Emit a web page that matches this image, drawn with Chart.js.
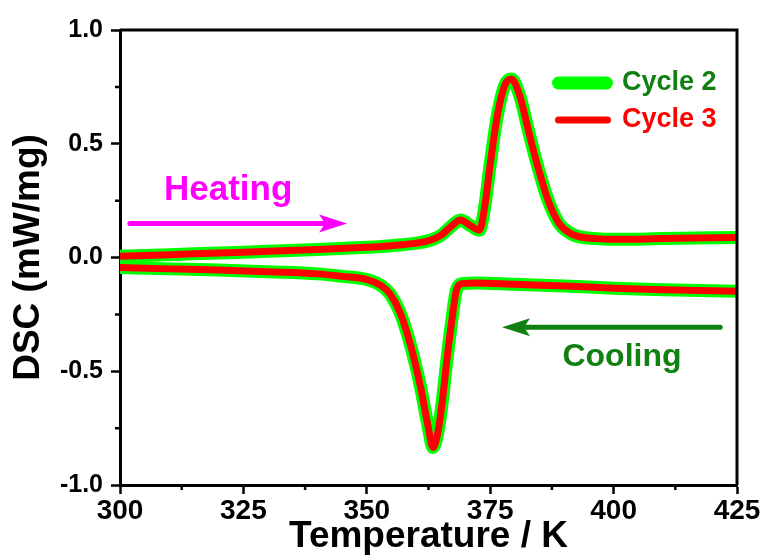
<!DOCTYPE html>
<html>
<head>
<meta charset="utf-8">
<script src="https://cdn.jsdelivr.net/npm/chart.js@4.4.1/dist/chart.umd.min.js"></script>
<style>
  html, body { margin: 0; padding: 0; background: #fff; }
  #wrap { width: 764px; height: 560px; }
</style>
</head>
<body>
<div id="wrap"><canvas id="dscChart" width="764" height="560"></canvas></div>
<script>
// Heating branch (temperature in K, DSC in mW/mg)
const heatT = [300, 310, 320, 330, 340, 350, 355, 360, 363, 365, 367, 369, 371, 372.8, 374, 375, 376.5, 378, 379.3, 381, 382.5, 384, 385.1, 386.5, 387.7, 389.1, 391.8, 396.5, 400, 410, 425];
const heatCycle2 = [0.005, 0.012, 0.02, 0.027, 0.035, 0.045, 0.052, 0.063, 0.077, 0.097, 0.135, 0.165, 0.14, 0.12, 0.24, 0.41, 0.63, 0.76, 0.785, 0.71, 0.58, 0.45, 0.365, 0.265, 0.2, 0.145, 0.10, 0.083, 0.08, 0.083, 0.088];
const heatCycle3 = [0.005, 0.012, 0.02, 0.027, 0.035, 0.045, 0.052, 0.063, 0.077, 0.097, 0.135, 0.165, 0.14, 0.12, 0.24, 0.41, 0.63, 0.76, 0.785, 0.71, 0.58, 0.45, 0.365, 0.265, 0.2, 0.145, 0.10, 0.083, 0.08, 0.083, 0.088];

// Cooling branch
const coolT = [300, 310, 320, 330, 340, 345, 350, 353, 354.7, 356.7, 358.8, 360.8, 362.4, 363.4, 364.3, 365.2, 366.2, 367.2, 368.2, 369.3, 372, 380, 390, 400, 410, 425];
const coolCycle2 = [-0.044, -0.05, -0.055, -0.063, -0.072, -0.083, -0.097, -0.125, -0.16, -0.24, -0.38, -0.56, -0.74, -0.835, -0.78, -0.65, -0.455, -0.28, -0.14, -0.115, -0.112, -0.118, -0.125, -0.135, -0.142, -0.148];
const coolCycle3 = [-0.044, -0.05, -0.055, -0.063, -0.072, -0.083, -0.097, -0.125, -0.16, -0.24, -0.38, -0.56, -0.74, -0.835, -0.78, -0.65, -0.455, -0.28, -0.14, -0.115, -0.112, -0.118, -0.125, -0.135, -0.142, -0.148];

const seriesNames = ["Cycle 2", "Cycle 3"];
const xTicks = [300, 325, 350, 375, 400, 425];
const yTicks = [-1.0, -0.5, 0.0, 0.5, 1.0];

const FONT = "'Liberation Sans', Arial, sans-serif";
const GREEN = "#00ff00";
const RED = "#ff0000";

function pts(xs, ys) {
  return xs.map((x, i) => ({ x: x, y: ys[i] }));
}

function lineSet(label, data, color, width, order) {
  return {
    label: label,
    data: data,
    borderColor: color,
    backgroundColor: color,
    borderWidth: width,
    pointRadius: 0,
    fill: false,
    cubicInterpolationMode: "monotone",
    borderCapStyle: "round",
    borderJoinStyle: "round",
    clip: 0,
    order: order,
  };
}

// Frame, minor ticks, legend and heating/cooling arrows
const decorations = {
  id: "decorations",
  afterDraw(chart) {
    const ctx = chart.ctx;
    const a = chart.chartArea;
    const xs = chart.scales.x;
    const ys = chart.scales.y;
    ctx.save();

    // top and right border
    ctx.strokeStyle = "#000";
    ctx.lineWidth = 3;
    ctx.beginPath();
    ctx.moveTo(a.left, a.top);
    ctx.lineTo(a.right, a.top);
    ctx.lineTo(a.right, a.bottom);
    ctx.stroke();

    // minor ticks
    ctx.lineWidth = 2.5;
    ctx.beginPath();
    for (let i = 0; i < xTicks.length - 1; i++) {
      const px = xs.getPixelForValue((xTicks[i] + xTicks[i + 1]) / 2);
      ctx.moveTo(px, a.bottom);
      ctx.lineTo(px, a.bottom + 5);
    }
    for (let i = 0; i < yTicks.length - 1; i++) {
      const py = ys.getPixelForValue((yTicks[i] + yTicks[i + 1]) / 2);
      ctx.moveTo(a.left, py);
      ctx.lineTo(a.left - 5, py);
    }
    ctx.stroke();

    // legend
    const lx = a.right - 185;
    ctx.lineCap = "round";
    ctx.strokeStyle = GREEN;
    ctx.lineWidth = 13;
    ctx.beginPath();
    ctx.moveTo(lx + 6.5, a.top + 53);
    ctx.lineTo(lx + 54.5, a.top + 53);
    ctx.stroke();
    ctx.strokeStyle = RED;
    ctx.lineWidth = 7;
    ctx.beginPath();
    ctx.moveTo(lx + 6.5, a.top + 90);
    ctx.lineTo(lx + 55.5, a.top + 90);
    ctx.stroke();
    ctx.font = "bold 27px " + FONT;
    ctx.textBaseline = "middle";
    ctx.textAlign = "left";
    ctx.fillStyle = "#118011";
    ctx.fillText(seriesNames[0], lx + 70, a.top + 53);
    ctx.fillStyle = RED;
    ctx.fillText(seriesNames[1], lx + 70, a.top + 90);

    // arrows
    function arrow(x1, x2, yv, color) {
      const p1 = xs.getPixelForValue(x1);
      const p2 = xs.getPixelForValue(x2);
      const py = ys.getPixelForValue(yv);
      const dir = Math.sign(p2 - p1);
      ctx.strokeStyle = color;
      ctx.fillStyle = color;
      ctx.lineWidth = 5;
      ctx.lineCap = "round";
      ctx.beginPath();
      ctx.moveTo(p1, py);
      ctx.lineTo(p2 - dir * 12, py);
      ctx.stroke();
      ctx.beginPath();
      ctx.moveTo(p2, py);
      ctx.lineTo(p2 - dir * 28, py - 9);
      ctx.lineTo(p2 - dir * 22, py);
      ctx.lineTo(p2 - dir * 28, py + 9);
      ctx.closePath();
      ctx.fill();
    }
    arrow(302, 346, 0.149, "#ff00ff");
    arrow(421.6, 377.4, -0.307, "#108010");

    ctx.textAlign = "center";
    ctx.textBaseline = "alphabetic";
    ctx.font = "bold 35px " + FONT;
    ctx.fillStyle = "#ff00ff";
    ctx.fillText("Heating", xs.getPixelForValue(321.9), ys.getPixelForValue(0.252));
    ctx.font = "bold 32px " + FONT;
    ctx.fillStyle = "#108010";
    ctx.fillText("Cooling", xs.getPixelForValue(401.7), ys.getPixelForValue(-0.478));

    ctx.restore();
  },
};

const chart = new Chart(document.getElementById("dscChart"), {
  type: "line",
  data: {
    datasets: [
      lineSet(seriesNames[1] + " heating", pts(heatT, heatCycle3), RED, 7, 0),
      lineSet(seriesNames[1] + " cooling", pts(coolT, coolCycle3), RED, 7, 0),
      lineSet(seriesNames[0] + " heating", pts(heatT, heatCycle2), GREEN, 13, 1),
      lineSet(seriesNames[0] + " cooling", pts(coolT, coolCycle2), GREEN, 13, 1),
    ],
  },
  options: {
    responsive: false,
    animation: false,
    devicePixelRatio: 1,
    layout: { padding: { top: 30, right: 27, left: 0, bottom: 0 } },
    plugins: {
      legend: { display: false },
      tooltip: { enabled: false },
    },
    scales: {
      x: {
        type: "linear",
        min: 300,
        max: 425,
        afterFit(scale) { scale.height = 75; },
        afterBuildTicks(scale) { scale.ticks = xTicks.map(v => ({ value: v })); },
        grid: { drawOnChartArea: false, tickLength: 9, tickWidth: 2.5, tickColor: "#000" },
        border: { color: "#000", width: 3 },
        ticks: {
          color: "#000",
          padding: 0,
          maxRotation: 0,
          font: { family: FONT, weight: "bold", size: 28 },
        },
        title: {
          display: true,
          text: "Temperature / K",
          color: "#000",
          font: { family: FONT, weight: "bold", size: 37, lineHeight: 1 },
          padding: { top: 0, bottom: 5 },
        },
      },
      y: {
        type: "linear",
        min: -1,
        max: 1,
        afterFit(scale) { scale.width = 120; },
        afterBuildTicks(scale) { scale.ticks = yTicks.map(v => ({ value: v })); },
        grid: { drawOnChartArea: false, tickLength: 9, tickWidth: 2.5, tickColor: "#000" },
        border: { color: "#000", width: 3 },
        ticks: {
          color: "#000",
          padding: 8,
          font: { family: FONT, weight: "bold", size: 25 },
          callback: v => v.toFixed(1),
        },
        title: {
          display: true,
          text: "DSC (mW/mg)",
          color: "#000",
          font: { family: FONT, weight: "bold", size: 37, lineHeight: 1 },
          padding: { top: 10, bottom: 0 },
        },
      },
    },
  },
  plugins: [decorations],
});
</script>
</body>
</html>
